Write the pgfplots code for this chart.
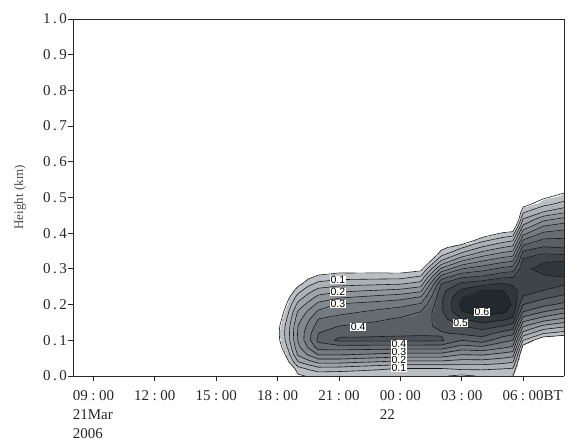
\documentclass[border=0pt]{standalone}
\usepackage{pgfplots}
\pgfplotsset{compat=1.18}
\usepackage{fontspec}
\setmainfont{Liberation Serif}
\newfontfamily\labelfont{Liberation Sans}

% hh:mm with the wide colon used on the time axis
\newcommand{\tm}[2]{#1\hspace{3.5pt}:\hspace{3.5pt}#2}
% height tick with spaced decimal point
\newcommand{\hk}[2]{#1\hspace{2.5pt}.\hspace{2.5pt}#2}
% contour value label
\newcommand{\clab}[3]{\node[fill=white, inner sep=0.5pt, font=\labelfont\fontsize{10.5}{10.5}\selectfont] at (axis cs:#1,#2,0.7) {#3};}

% ---------------------------------------------------------------
% Gridded field: columns of values at fixed time, rows of heights.
% \FieldSurf draws the filled field, \FieldContours traces levels
% through the same grid (linear interpolation along cell edges).
% ---------------------------------------------------------------
\ExplSyntaxOn
\int_new:N \g_fld_nx_int
\int_new:N \g_fld_ny_int
\int_new:N \l_fld_j_int
\int_new:N \l_fld_n_int
\tl_new:N \g_fld_tl
\seq_new:N \l_fld_pts_seq
\fp_new:N \l_fld_a_fp
\fp_new:N \l_fld_b_fp
\fp_new:N \l_fld_c_fp
\fp_new:N \l_fld_d_fp
\fp_new:N \l_fld_t_fp
\fp_new:N \l_fld_xa_fp
\fp_new:N \l_fld_xb_fp
\fp_new:N \l_fld_ya_fp
\fp_new:N \l_fld_yb_fp

\cs_new:Npn \fld_x:n #1 { \tl_use:c { g_fld_x_ #1 _tl } }
\cs_new:Npn \fld_y:n #1 { \tl_use:c { g_fld_y_ #1 _tl } }
\cs_new:Npn \fld_v:nn #1#2 { \tl_use:c { g_fld_v_ #1 _ #2 _tl } }

\NewDocumentCommand \FieldHeights { m }
  {
    \int_gzero:N \g_fld_ny_int
    \clist_map_inline:nn {#1}
      {
        \int_gincr:N \g_fld_ny_int
        \tl_gset:cn { g_fld_y_ \int_use:N \g_fld_ny_int _tl } {##1}
      }
  }

\NewDocumentCommand \FieldColumn { m m }
  {
    \int_gincr:N \g_fld_nx_int
    \tl_gset:cn { g_fld_x_ \int_use:N \g_fld_nx_int _tl } {#1}
    \int_zero:N \l_fld_j_int
    \clist_map_inline:nn {#2}
      {
        \int_incr:N \l_fld_j_int
        \tl_gset:cn { g_fld_v_ \int_use:N \g_fld_nx_int _ \int_use:N \l_fld_j_int _tl } {##1}
      }
  }

\cs_new_protected:Npn \fld_build_surf:
  {
    \tl_gclear:N \g_fld_tl
    \int_step_inline:nn { \g_fld_nx_int }
      {
        \int_step_inline:nn { \g_fld_ny_int }
          {
            \tl_gput_right:Nx \g_fld_tl
              { ( \fld_x:n {##1} , \fld_y:n {####1} , \fld_v:nn {##1} {####1} ) ~ }
          }
      }
  }

\cs_new_protected:Npn \fld_edge:NNnnnn #1#2#3#4#5#6
  {
    \int_compare:nNnF
      { \fp_compare:nNnTF {#1} < {0} {0} {1} }
      =
      { \fp_compare:nNnTF {#2} < {0} {0} {1} }
      {
        \fp_set:Nn \l_fld_t_fp { #1 / ( #1 - #2 ) }
        \seq_put_right:Nx \l_fld_pts_seq
          {
            ( \fp_to_decimal:n { #3 + \l_fld_t_fp * ( #5 - #3 ) } ,
              \fp_to_decimal:n { #4 + \l_fld_t_fp * ( #6 - #4 ) } , 0.7 )
          }
      }
  }

\cs_new_protected:Npn \fld_seg:nn #1#2
  {
    \tl_gput_right:Nx \g_fld_tl
      { \seq_item:Nn \l_fld_pts_seq {#1} ~ \seq_item:Nn \l_fld_pts_seq {#2} ~ (nan,nan,nan) ~ }
  }

\cs_new_protected:Npn \fld_cell:nnn #1#2#3
  {
    \fp_set:Nn \l_fld_a_fp { \fld_v:nn {#2} {#3} - (#1) }
    \fp_set:Nn \l_fld_b_fp { \fld_v:nn { \int_eval:n { #2 + 1 } } {#3} - (#1) }
    \fp_set:Nn \l_fld_c_fp { \fld_v:nn {#2} { \int_eval:n { #3 + 1 } } - (#1) }
    \fp_set:Nn \l_fld_d_fp { \fld_v:nn { \int_eval:n { #2 + 1 } } { \int_eval:n { #3 + 1 } } - (#1) }
    \int_set:Nn \l_fld_n_int
      {
        \fp_compare:nNnTF \l_fld_a_fp < {0} {0} {1}
        + \fp_compare:nNnTF \l_fld_b_fp < {0} {0} {1}
        + \fp_compare:nNnTF \l_fld_c_fp < {0} {0} {1}
        + \fp_compare:nNnTF \l_fld_d_fp < {0} {0} {1}
      }
    \int_compare:nNnF { \l_fld_n_int * ( 4 - \l_fld_n_int ) } = { 0 }
      {
        \fp_set:Nn \l_fld_xa_fp { \fld_x:n {#2} }
        \fp_set:Nn \l_fld_xb_fp { \fld_x:n { \int_eval:n { #2 + 1 } } }
        \fp_set:Nn \l_fld_ya_fp { \fld_y:n {#3} }
        \fp_set:Nn \l_fld_yb_fp { \fld_y:n { \int_eval:n { #3 + 1 } } }
        \seq_clear:N \l_fld_pts_seq
        \fld_edge:NNnnnn \l_fld_a_fp \l_fld_b_fp
          { \l_fld_xa_fp } { \l_fld_ya_fp } { \l_fld_xb_fp } { \l_fld_ya_fp }
        \fld_edge:NNnnnn \l_fld_b_fp \l_fld_d_fp
          { \l_fld_xb_fp } { \l_fld_ya_fp } { \l_fld_xb_fp } { \l_fld_yb_fp }
        \fld_edge:NNnnnn \l_fld_d_fp \l_fld_c_fp
          { \l_fld_xb_fp } { \l_fld_yb_fp } { \l_fld_xa_fp } { \l_fld_yb_fp }
        \fld_edge:NNnnnn \l_fld_c_fp \l_fld_a_fp
          { \l_fld_xa_fp } { \l_fld_yb_fp } { \l_fld_xa_fp } { \l_fld_ya_fp }
        \int_compare:nNnTF { \seq_count:N \l_fld_pts_seq } = { 4 }
          {
            \fp_compare:nNnTF
              { ( \l_fld_a_fp + \l_fld_b_fp + \l_fld_c_fp + \l_fld_d_fp ) * \l_fld_a_fp } < { 0 }
              { \fld_seg:nn {1} {4} \fld_seg:nn {2} {3} }
              { \fld_seg:nn {1} {2} \fld_seg:nn {3} {4} }
          }
          { \fld_seg:nn {1} {2} }
      }
  }

\cs_new_protected:Npn \fld_build_level:n #1
  {
    \tl_gclear:N \g_fld_tl
    \int_step_inline:nn { \g_fld_nx_int - 1 }
      {
        \int_step_inline:nn { \g_fld_ny_int - 1 }
          { \fld_cell:nnn {#1} {##1} {####1} }
      }
  }

\NewDocumentCommand \FieldSurf { m }
  {
    \fld_build_surf:
    \use:x
      {
        \exp_not:N \addplot3 [ \exp_not:n {#1} ] ~ coordinates ~ { \exp_not:V \g_fld_tl } ;
      }
  }

\NewDocumentCommand \FieldContours { m m }
  {
    \clist_map_inline:nn {#2}
      {
        \fld_build_level:n {##1}
        \use:x
          {
            \exp_not:N \addplot3 [ \exp_not:n {#1} ] ~ coordinates ~ { \exp_not:V \g_fld_tl } ;
          }
      }
  }
\ExplSyntaxOff

% heights (km) of the grid rows
\FieldHeights{0,0.02,0.04,0.06,0.08,0.1,0.12,0.14,0.16,0.18,0.2,0.22,0.24,0.26,0.28,0.3,0.32,0.34,0.36,0.38,0.4,0.42,0.44,0.46,0.48,0.5,0.52,0.54,0.56}
% one column per time (h after 00:00 21 Mar), values from the ground upward
\FieldColumn{17}{-0.2,-0.2,-0.2,-0.2,-0.2,-0.2,-0.2,-0.2,-0.2,-0.2,-0.2,-0.2,-0.2,-0.2,-0.2,-0.2,-0.2,-0.2,-0.2,-0.2,-0.2,-0.2,-0.2,-0.2,-0.2,-0.2,-0.2,-0.2,-0.2}
\FieldColumn{18}{-0.15,-0.1,-0.05,-0.02,0.01,0.03,0.035,0.03,0.01,-0.01,-0.04,-0.07,-0.1,-0.13,-0.16,-0.2,-0.2,-0.2,-0.2,-0.2,-0.2,-0.2,-0.2,-0.2,-0.2,-0.2,-0.2,-0.2,-0.2}
\FieldColumn{18.5}{-0.1,-0.02,0.04,0.075,0.105,0.125,0.13,0.125,0.11,0.09,0.065,0.035,0,-0.04,-0.08,-0.12,-0.12,-0.12,-0.12,-0.12,-0.12,-0.12,-0.12,-0.12,-0.12,-0.12,-0.12,-0.12,-0.12}
\FieldColumn{19}{0.04,0.079,0.15,0.208,0.236,0.255,0.257,0.25,0.228,0.206,0.167,0.125,0.078,0.025,-0.017,-0.05,-0.1,-0.1,-0.1,-0.1,-0.1,-0.1,-0.1,-0.1,-0.1,-0.1,-0.1,-0.1,-0.1}
\FieldColumn{19.5}{0.055,0.105,0.184,0.256,0.304,0.334,0.329,0.313,0.289,0.258,0.217,0.172,0.13,0.078,0.03,-0.025,-0.075,-0.1,-0.1,-0.1,-0.1,-0.1,-0.1,-0.1,-0.1,-0.1,-0.1,-0.1,-0.1}
\FieldColumn{20}{0.06,0.13,0.217,0.304,0.371,0.413,0.4,0.375,0.35,0.31,0.267,0.218,0.166,0.111,0.058,0,-0.05,-0.1,-0.1,-0.1,-0.1,-0.1,-0.1,-0.1,-0.1,-0.1,-0.1,-0.1,-0.1}
\FieldColumn{21}{0.055,0.127,0.217,0.304,0.375,0.46,0.436,0.4,0.367,0.335,0.306,0.244,0.185,0.128,0.072,0.02,-0.04,-0.1,-0.1,-0.1,-0.1,-0.1,-0.1,-0.1,-0.1,-0.1,-0.1,-0.1,-0.1}
\FieldColumn{22}{0.055,0.116,0.208,0.297,0.373,0.46,0.438,0.408,0.38,0.348,0.316,0.257,0.194,0.132,0.073,0.018,-0.043,-0.1,-0.1,-0.1,-0.1,-0.1,-0.1,-0.1,-0.1,-0.1,-0.1,-0.1,-0.1}
\FieldColumn{23}{0.055,0.106,0.199,0.289,0.372,0.46,0.441,0.416,0.393,0.362,0.326,0.269,0.202,0.136,0.074,0.017,-0.047,-0.1,-0.1,-0.1,-0.1,-0.1,-0.1,-0.1,-0.1,-0.1,-0.1,-0.1,-0.1}
\FieldColumn{24}{0.055,0.095,0.19,0.282,0.37,0.46,0.443,0.424,0.406,0.375,0.336,0.282,0.211,0.14,0.075,0.015,-0.05,-0.1,-0.1,-0.1,-0.1,-0.1,-0.1,-0.1,-0.1,-0.1,-0.1,-0.1,-0.1}
\FieldColumn{25}{0.055,0.095,0.19,0.282,0.37,0.46,0.445,0.43,0.415,0.4,0.358,0.306,0.236,0.164,0.1,0.03,-0.04,-0.1,-0.1,-0.1,-0.1,-0.1,-0.1,-0.1,-0.1,-0.1,-0.1,-0.1,-0.1}
\FieldColumn{26}{0.055,0.095,0.19,0.282,0.37,0.457,0.445,0.465,0.48,0.49,0.495,0.49,0.48,0.445,0.36,0.26,0.164,0.085,0.03,-0.03,-0.1,-0.1,-0.1,-0.1,-0.1,-0.1,-0.1,-0.1,-0.1}
\FieldColumn{27}{0.04,0.107,0.179,0.25,0.326,0.4,0.46,0.5,0.55,0.598,0.61,0.598,0.56,0.506,0.433,0.35,0.259,0.171,0.094,-0.01,-0.1,-0.1,-0.1,-0.1,-0.1,-0.1,-0.1,-0.1,-0.1}
\FieldColumn{28}{0.055,0.107,0.18,0.255,0.338,0.425,0.475,0.525,0.583,0.62,0.65,0.625,0.6,0.525,0.45,0.379,0.307,0.232,0.157,0.086,0,-0.07,-0.1,-0.1,-0.1,-0.1,-0.1,-0.1,-0.1}
\FieldColumn{29}{0.05,0.1,0.167,0.233,0.307,0.367,0.433,0.5,0.562,0.608,0.622,0.614,0.6,0.55,0.483,0.414,0.343,0.271,0.2,0.129,0.057,-0.04,-0.1,-0.1,-0.1,-0.1,-0.1,-0.1,-0.1}
\FieldColumn{29.5}{0.05,0.095,0.155,0.22,0.29,0.35,0.415,0.48,0.54,0.58,0.595,0.59,0.57,0.54,0.49,0.425,0.355,0.285,0.215,0.145,0.07,-0.02,-0.1,-0.1,-0.1,-0.1,-0.1,-0.1,-0.1}
\FieldColumn{30}{-0.1,-0.08,-0.06,-0.03,0.025,0.1,0.183,0.257,0.329,0.4,0.45,0.495,0.52,0.535,0.54,0.535,0.515,0.48,0.421,0.354,0.283,0.209,0.15,0.09,0.03,-0.04,-0.1,-0.1,-0.1}
\FieldColumn{31}{-0.1,-0.1,-0.1,-0.1,-0.05,0,0.105,0.19,0.277,0.35,0.414,0.46,0.5,0.529,0.545,0.572,0.546,0.506,0.455,0.411,0.358,0.3,0.231,0.15,0.089,0.042,-0.02,-0.1,-0.1}
\FieldColumn{32}{-0.1,-0.1,-0.1,-0.1,-0.1,-0.02,0.081,0.161,0.241,0.314,0.386,0.435,0.473,0.511,0.556,0.58,0.553,0.5,0.447,0.411,0.371,0.325,0.262,0.189,0.12,0.077,0.033,-0.03,-0.1}

\begin{document}
\begin{tikzpicture}
\useasboundingbox (-73pt,-63pt) rectangle (499pt,376pt);
\clip (-73pt,-63pt) rectangle (499pt,376pt);
\begin{axis}[
  view={0}{90},
  scale only axis, width=491pt, height=357pt,
  xmin=8, xmax=32, ymin=0, ymax=1, zmin=-0.2, zmax=0.7,
  enlargelimits=false,
  ztick=\empty,
  xtick={9,12,...,30},
  xticklabels={{\tm{09}{00}\\21Mar\\2006},\tm{12}{00},\tm{15}{00},\tm{18}{00},\tm{21}{00},{\tm{00}{00}\\22},\tm{03}{00},{\tm{06}{00}\rlap{BT}}},
  ytick={0,0.1,...,1.0},
  yticklabels={\hk00,\hk01,\hk02,\hk03,\hk04,\hk05,\hk06,\hk07,\hk08,\hk09,\hk10},
  xtick pos=left, ytick pos=left,
  tick align=outside, major tick length=4.5pt,
  axis line style={line width=0.9pt, black!85},
  every tick/.style={line width=0.9pt, black!85},
  ticklabel style={font=\fontsize{15}{19}\selectfont, text=black!85},
  xticklabel style={align=left, inner sep=2pt, yshift=-8pt},
  yticklabel style={inner sep=1.5pt},
  ylabel={Height (km)},
  ylabel style={at={(axis description cs:-0.108,0.5)}, anchor=center, font=\fontsize{13}{13}\selectfont, text=black!70},
  % value v sits at colormap position (v+0.2)*1000pt; one grey per 0.05 step
  point meta min=-0.2, point meta max=0.7,
  colormap access=piecewise constant,
  colormap={bands}{[1pt]
    rgb255(0pt)=(255,255,255)   rgb255(249pt)=(255,255,255)
    rgb255(250pt)=(186,191,195) rgb255(299pt)=(186,191,195)
    rgb255(300pt)=(172,177,181) rgb255(349pt)=(172,177,181)
    rgb255(350pt)=(158,163,167) rgb255(399pt)=(158,163,167)
    rgb255(400pt)=(144,149,153) rgb255(449pt)=(144,149,153)
    rgb255(450pt)=(131,136,140) rgb255(499pt)=(131,136,140)
    rgb255(500pt)=(117,122,126) rgb255(549pt)=(117,122,126)
    rgb255(550pt)=(103,108,112) rgb255(599pt)=(103,108,112)
    rgb255(600pt)=(90,95,99)    rgb255(649pt)=(90,95,99)
    rgb255(650pt)=(76,81,85)    rgb255(699pt)=(76,81,85)
    rgb255(700pt)=(63,68,72)    rgb255(749pt)=(63,68,72)
    rgb255(750pt)=(49,54,58)    rgb255(799pt)=(49,54,58)
    rgb255(800pt)=(35,40,44)    rgb255(900pt)=(35,40,44)
  },
]
\FieldSurf{surf, shader=interp, mesh/cols=29}
\FieldContours{no marks, draw=black!90, line width=0.6pt, line join=round, line cap=round, unbounded coords=jump}
  {0.05,0.1,0.15,0.2,0.25,0.3,0.35,0.4,0.45,0.5,0.55,0.6}
\clab{20.95}{0.269}{0.1}
\clab{20.95}{0.235}{0.2}
\clab{20.95}{0.202}{0.3}
\clab{21.94}{0.137}{0.4}
\clab{23.93}{0.022}{0.1}
\clab{23.93}{0.045}{0.2}
\clab{23.93}{0.067}{0.3}
\clab{23.93}{0.090}{0.4}
\clab{26.95}{0.148}{0.5}
\clab{27.99}{0.180}{0.6}
\end{axis}
\end{tikzpicture}
\end{document}
